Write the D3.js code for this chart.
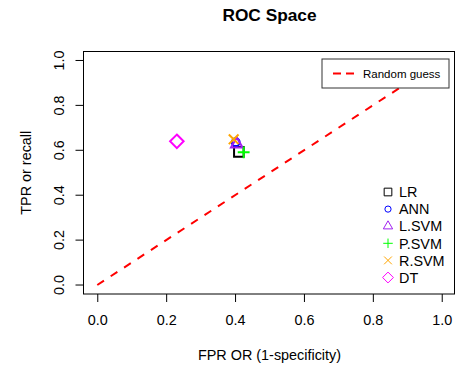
<!DOCTYPE html>
<html>
<head>
<meta charset="utf-8">
<script src="https://cdn.jsdelivr.net/npm/d3@7"></script>
<style>
  body { margin: 0; background: #fff; }
  svg { display: block; font-family: "Liberation Sans", Arial, sans-serif; }
</style>
</head>
<body>
<div id="chart"></div>
<script>
// model names and their ROC points
var models = ['LR', 'ANN', 'L.SVM', 'P.SVM', 'R.SVM', 'DT'];
var fpr = [0.411, 0.402, 0.405, 0.425, 0.396, 0.231];
var tpr = [0.593, 0.636, 0.627, 0.591, 0.649, 0.640];
var colors = ['#000000', '#0000ff', '#a020f0', '#00ff00', '#ffa500', '#ff00ff'];
var shapes = ['square', 'circle', 'triangle', 'plus', 'cross', 'diamond'];
var ticks = [0, 0.2, 0.4, 0.6, 0.8, 1.0];
// random guess line
var guessX = [0, 1];
var guessY = [0, 1];

var W = 456, H = 367;
var dim = { left: 83.5, right: 455.5, top: 51.5, bottom: 294 };

var svg = d3.select('#chart').append('svg').attr('width', W).attr('height', H);

var x = d3.scaleLinear().domain([-0.04, 1.04]).range([dim.left, dim.right]);
var y = d3.scaleLinear().domain([-0.04, 1.04]).range([dim.bottom, dim.top]);

// axes
var xAxis = svg.append('g')
  .attr('transform', 'translate(0,' + dim.bottom + ')')
  .call(d3.axisBottom(x).tickValues(ticks).tickFormat(d3.format('.1f')).tickSize(8).tickPadding(12));
var yAxis = svg.append('g')
  .attr('transform', 'translate(' + dim.left + ',0)')
  .call(d3.axisLeft(y).tickValues(ticks).tickFormat(d3.format('.1f')).tickSize(8).tickPadding(4));

[xAxis, yAxis].forEach(function (g) {
  g.select('.domain').remove();
  g.selectAll('line').attr('stroke', '#000');
  g.selectAll('text').attr('fill', '#000').style('font-size', '14.4px').style('font-family', '"Liberation Sans", Arial, sans-serif');
});
xAxis.selectAll('text').attr('dy', null).attr('y', 31);
yAxis.selectAll('text')
  .attr('x', null).attr('dy', null)
  .attr('transform', function (d) { return 'translate(-20,' + y(d) + ') rotate(-90)'; })
  .attr('y', 0)
  .attr('text-anchor', 'middle');
yAxis.selectAll('.tick').attr('transform', null);
yAxis.selectAll('.tick line').attr('transform', function (d) { return 'translate(0,' + y(d) + ')'; });

// plot box
svg.append('rect')
  .attr('x', dim.left).attr('y', dim.top)
  .attr('width', dim.right - dim.left - 1).attr('height', dim.bottom - dim.top)
  .attr('fill', 'none').attr('stroke', '#000').attr('stroke-width', 1);

// random guess line
svg.append('clipPath').attr('id', 'plotclip').append('rect')
  .attr('x', dim.left).attr('y', dim.top)
  .attr('width', dim.right - dim.left).attr('height', dim.bottom - dim.top);

svg.append('line')
  .attr('clip-path', 'url(#plotclip)')
  .attr('x1', x(guessX[0])).attr('y1', y(guessY[0]))
  .attr('x2', x(guessX[1])).attr('y2', y(guessY[1]))
  .attr('stroke', '#ff0000').attr('stroke-width', 2)
  .attr('stroke-dasharray', '8,8');

// R-like plotting symbols
var RAD = 0.375 * 14.4;
function symbolPath(shape, k) {
  var p = d3.path(), r, R = RAD * (k || 1);
  if (shape === 'square') {
    r = R * 0.8862;
    p.rect(-r, -r, 2 * r, 2 * r);
  } else if (shape === 'circle') {
    p.arc(0, 0, R * 0.72, 0, 2 * Math.PI);
  } else if (shape === 'triangle') {
    var xc = R * 1.3468 * 0.8, rr = R * 1.5551 * 0.8, yc = R * 0.7776 * 0.8;
    p.moveTo(0, -rr); p.lineTo(xc, yc); p.lineTo(-xc, yc); p.closePath();
  } else if (shape === 'plus') {
    r = R * 1.1;
    p.moveTo(-r, 0); p.lineTo(r, 0); p.moveTo(0, -r); p.lineTo(0, r);
  } else if (shape === 'cross') {
    r = R * 0.9;
    p.moveTo(-r, -r); p.lineTo(r, r); p.moveTo(-r, r); p.lineTo(r, -r);
  } else if (shape === 'diamond') {
    r = R * 1.2533;
    p.moveTo(0, -r); p.lineTo(r, 0); p.lineTo(0, r); p.lineTo(-r, 0); p.closePath();
  }
  return p.toString();
}

svg.append('g').selectAll('path')
  .data(models)
  .enter()
  .append('path')
  .attr('d', function (d, i) { return symbolPath(shapes[i]); })
  .attr('transform', function (d, i) { return 'translate(' + x(fpr[i]) + ',' + y(tpr[i]) + ')'; })
  .attr('fill', 'none')
  .attr('stroke', function (d, i) { return colors[i]; })
  .attr('stroke-width', 2);

// legend: random guess
var lg = svg.append('g');
lg.append('rect')
  .attr('x', 322).attr('y', 59).attr('width', 127).attr('height', 29)
  .attr('fill', '#fff').attr('stroke', '#333').attr('stroke-width', 1);
lg.append('line')
  .attr('x1', 333).attr('x2', 354).attr('y1', 73.5).attr('y2', 73.5)
  .attr('stroke', '#ff0000').attr('stroke-width', 2)
  .attr('stroke-dasharray', '8,5');
lg.append('text')
  .attr('x', 363).attr('y', 77.5)
  .style('font-size', '11.5px')
  .text('Random guess');

// legend: models
var keys = svg.append('g').selectAll('.key')
  .data(models)
  .enter()
  .append('g')
  .attr('class', 'key')
  .attr('transform', function (d, i) { return 'translate(388,' + (192 + i * 17.1) + ')'; });
keys.append('path')
  .attr('d', function (d, i) { return symbolPath(shapes[i], 0.8); })
  .attr('fill', 'none')
  .attr('stroke', function (d, i) { return colors[i]; })
  .attr('stroke-width', 1);
keys.append('text')
  .attr('x', 11).attr('y', 5.2)
  .style('font-size', '14.4px')
  .text(function (d) { return d; });

// titles
svg.append('text')
  .attr('x', (dim.left + dim.right) / 2).attr('y', 21)
  .attr('text-anchor', 'middle')
  .style('font-size', '17.3px').style('font-weight', 'bold')
  .text('ROC Space');
svg.append('text')
  .attr('x', (dim.left + dim.right) / 2).attr('y', 360)
  .attr('text-anchor', 'middle')
  .style('font-size', '14.4px')
  .text('FPR OR (1-specificity)');
svg.append('text')
  .attr('transform', 'translate(31,' + (dim.top + dim.bottom) / 2 + ') rotate(-90)')
  .attr('text-anchor', 'middle')
  .style('font-size', '14.4px')
  .text('TPR or recall');
</script>
</body>
</html>
